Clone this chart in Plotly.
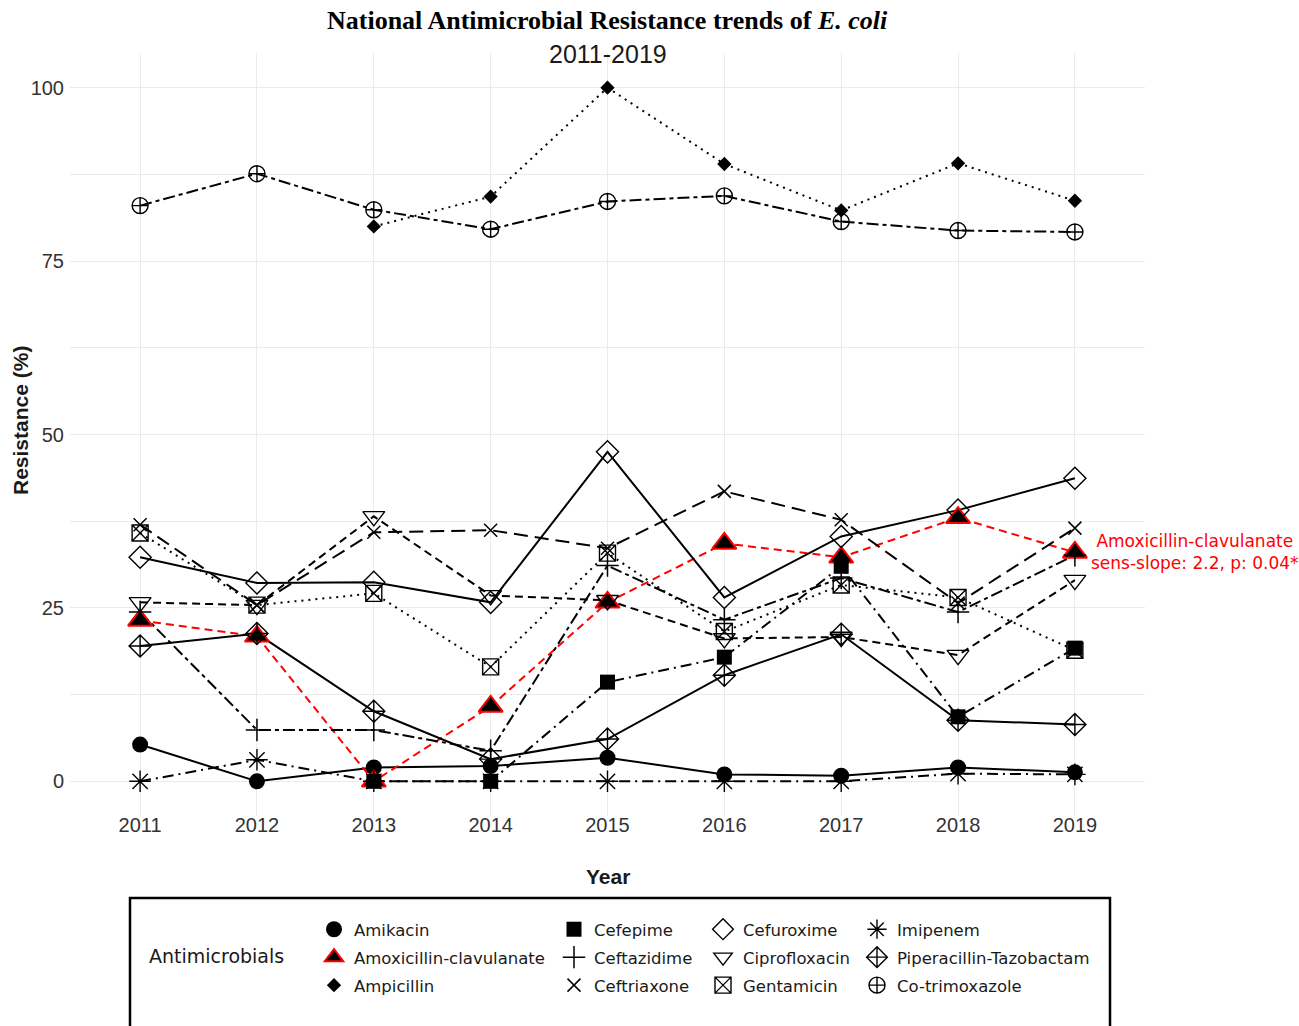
import plotly.graph_objects as go

# ---- data: resistance (%) of E. coli by antimicrobial, 2011-2019 ----
years = [2011, 2012, 2013, 2014, 2015, 2016, 2017, 2018, 2019]

amikacin = [5.3, 0.0, 2.0, 2.2, 3.4, 1.0, 0.8, 2.0, 1.3]
amoxicillin_clavulanate = [23.2, 20.9, 0.0, 10.8, 25.8, 34.3, 32.3, 38.0, 33.0]
ampicillin = [None, None, 80.0, 84.3, 100.0, 89.0, 82.3, 89.1, 83.7]
cefepime = [None, None, 0.0, 0.0, 14.3, 17.9, 31.0, 9.3, 19.2]
ceftazidime = [24.4, 7.4, 7.4, 4.4, 31.1, 23.3, 29.3, 24.4, 32.6]
ceftriaxone = [37.0, 25.4, 35.9, 36.2, 33.6, 41.8, 37.7, 25.7, 36.5]
cefuroxime = [32.3, 28.6, 28.7, 25.8, 47.5, 26.5, 35.3, 39.1, 43.7]
ciprofloxacin = [25.8, 25.4, 38.2, 26.8, 26.1, 20.6, 20.8, 18.2, 29.0]
gentamicin = [35.8, 25.4, 27.1, 16.5, 32.9, 21.6, 28.3, 26.5, 18.9]
imipenem = [0.0, 3.1, 0.0, 0.0, 0.0, 0.0, 0.0, 1.1, 1.0]
piperacillin_tazobactam = [19.5, 21.3, 10.1, 3.2, 6.1, 15.3, 21.2, 8.8, 8.2]
co_trimoxazole = [83.0, 87.6, 82.4, 79.6, 83.6, 84.4, 80.7, 79.4, 79.2]

trend_label = "Amoxicillin-clavulanate<br>sens-slope: 2.2, p: 0.04*"

# ---- styling per antimicrobial (legend order) ----
DOT = "2px,5px"
DASH = "8px,5px"
LONGDASH = "14px,7px"
DOTDASH = "11px,5px,2px,5px"
TWODASH = "12px,4px,4px,4px"

series = [
    ("Amikacin", amikacin, dict(symbol="circle", size=16, color="black"), "solid", "black", "legend"),
    ("Amoxicillin-clavulanate", amoxicillin_clavulanate,
     dict(symbol="triangle-up", size=21, color="black", line=dict(color="red", width=2)), DASH, "red", "legend"),
    ("Ampicillin", ampicillin, dict(symbol="diamond", size=11, color="black"), DOT, "black", "legend"),
    ("Cefepime", cefepime, dict(symbol="square", size=15, color="black"), DOTDASH, "black", "legend2"),
    ("Ceftazidime", ceftazidime,
     dict(symbol="cross-thin", size=16, color="black", line=dict(color="black", width=1.5)), TWODASH, "black", "legend2"),
    ("Ceftriaxone", ceftriaxone,
     dict(symbol="x-thin", size=13, color="black", line=dict(color="black", width=1.5)), LONGDASH, "black", "legend2"),
    ("Cefuroxime", cefuroxime,
     dict(symbol="diamond-open", size=17, color="black", line=dict(width=1.4)), "solid", "black", "legend3"),
    ("Ciprofloxacin", ciprofloxacin,
     dict(symbol="triangle-down-open", size=19, color="black", line=dict(width=1.4)), DASH, "black", "legend3"),
    ("Gentamicin", gentamicin,
     dict(symbol="square-x-open", size=16, color="black", line=dict(width=1.4)), DOT, "black", "legend3"),
    ("Imipenem", imipenem,
     dict(symbol="asterisk", size=18, color="black", line=dict(color="black", width=1.4)), DOTDASH, "black", "legend4"),
    ("Piperacillin-Tazobactam", piperacillin_tazobactam,
     dict(symbol="diamond-cross-open", size=17, color="black", line=dict(width=1.4)), "solid", "black", "legend4"),
    ("Co-trimoxazole", co_trimoxazole,
     dict(symbol="circle-cross-open", size=16, color="black", line=dict(width=1.4)), TWODASH, "black", "legend4"),
]

LINE_W = 2
fig = go.Figure()

# lines underneath everything
for name, vals, mk, dash, lc, lg in series:
    fig.add_trace(go.Scatter(x=years, y=vals, mode="lines", connectgaps=False,
                             line=dict(color=lc, width=LINE_W, dash=dash),
                             showlegend=False, hoverinfo="skip"))

# points on top (red trend series first)
for name, vals, mk, dash, lc, lg in series:
    fig.add_trace(go.Scatter(x=years, y=vals, mode="markers", marker=mk,
                             name=name, showlegend=False))

# legend keys: symbol only, one group per entry for row spacing
for name, vals, mk, dash, lc, lg in series:
    fig.add_trace(go.Scatter(x=[None], y=[None], mode="markers", marker=mk,
                             name=name, legend=lg, legendgroup=name, showlegend=True))

L, R, T, B = 70, 154, 53, 210
W, H = 1299, 1026
pw, ph = W - L - R, H - T - B


def px_x(px):
    return (px - L) / pw


def px_y(py):
    return (H - B - py) / ph


legend_font = dict(family="DejaVu Sans", size=16.5, color="#1a1a1a")
legend_common = dict(orientation="v", xanchor="left", yanchor="top", font=legend_font,
                     bgcolor="rgba(0,0,0,0)", itemwidth=30, tracegroupgap=3.5, borderwidth=0)

tick_font = dict(family="Liberation Sans", size=20, color="#333333")
grid = "#ebebeb"

fig.update_layout(
    width=W, height=H,
    margin=dict(l=L, r=R, t=T, b=B, autoexpand=False),
    paper_bgcolor="white", plot_bgcolor="white",
    xaxis=dict(range=[2010.4, 2019.6], tickvals=years, ticktext=[str(y) for y in years],
               showgrid=True, gridcolor=grid, gridwidth=1.2, zeroline=False, showline=False,
               ticks="", tickfont=tick_font, anchor="free", position=0.006),
    yaxis=dict(range=[-5, 105], tickvals=[0, 25, 50, 75, 100],
               showgrid=True, gridcolor=grid, gridwidth=1.2, zeroline=False, showline=False,
               ticks="", tickfont=tick_font, ticklabelstandoff=5,
               minor=dict(tickvals=[12.5, 37.5, 62.5, 87.5], showgrid=True, gridcolor=grid, gridwidth=0.8)),
    legend=dict(x=px_x(314), y=px_y(912), **legend_common),
    legend2=dict(x=px_x(554), y=px_y(912), **legend_common),
    legend3=dict(x=px_x(703), y=px_y(912), **legend_common),
    legend4=dict(x=px_x(857), y=px_y(912), **legend_common),
    showlegend=True,
)

annotations = [
    dict(text="<b>National Antimicrobial Resistance trends of <i>E. coli</i></b>",
         xref="paper", yref="paper", x=0.5, y=px_y(21), xanchor="center", yanchor="middle",
         showarrow=False, font=dict(family="Liberation Serif", size=26, color="black")),
    dict(text="2011-2019", xref="paper", yref="paper", x=0.5, y=px_y(54),
         xanchor="center", yanchor="middle", showarrow=False,
         font=dict(family="Liberation Sans", size=25, color="#1a1a1a")),
    dict(text="<b>Year</b>", xref="paper", yref="paper", x=0.5, y=px_y(876),
         xanchor="center", yanchor="middle", showarrow=False,
         font=dict(family="Liberation Sans", size=21, color="#1a1a1a")),
    dict(text="<b>Resistance (%)</b>", xref="paper", yref="paper", x=px_x(20), y=px_y(421),
         xanchor="center", yanchor="middle", textangle=-90, showarrow=False,
         font=dict(family="Liberation Sans", size=21, color="#1a1a1a")),
    dict(text="Antimicrobials", xref="paper", yref="paper", x=px_x(147), y=px_y(956),
         xanchor="left", yanchor="middle", showarrow=False,
         font=dict(family="DejaVu Sans", size=19, color="#1a1a1a")),
    dict(text=trend_label, xref="x", yref="y", x=years[-1], y=amoxicillin_clavulanate[-1],
         xanchor="left", yanchor="middle", xshift=14, align="center", showarrow=False,
         font=dict(family="DejaVu Sans", size=17, color="red")),
]
fig.update_layout(annotations=annotations)

# frame around the legend
fig.add_shape(type="rect", xref="paper", yref="paper",
              x0=px_x(130), x1=px_x(1110), y0=px_y(1060), y1=px_y(898),
              line=dict(color="black", width=2.5), fillcolor="rgba(0,0,0,0)", layer="above")

fig.write_html("out.html")
